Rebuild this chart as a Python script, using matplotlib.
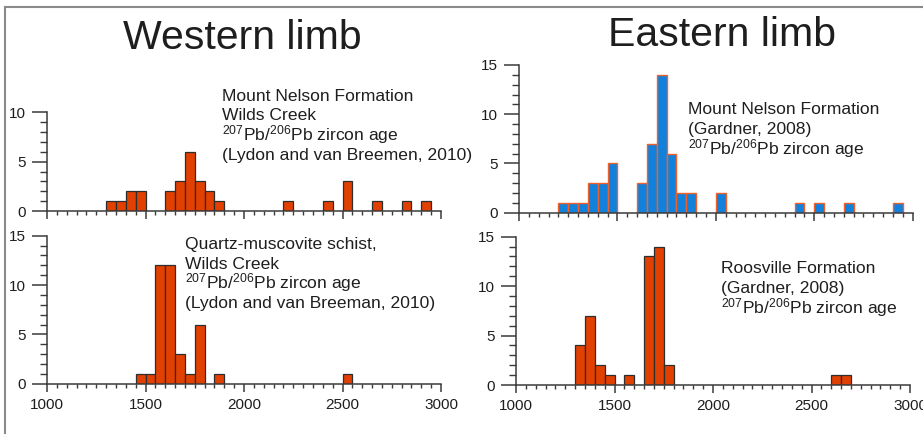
import matplotlib
matplotlib.use('Agg')
import matplotlib.pyplot as plt
from matplotlib.lines import Line2D
from matplotlib.ticker import MultipleLocator

# Detrital zircon age histograms (50 Ma bins, left edges in Ma)
west_top_bins   = [1300, 1350, 1400, 1450, 1600, 1650, 1700, 1750, 1800, 1850, 2200, 2400, 2500, 2650, 2800, 2900]
west_top_counts = [1, 1, 2, 2, 2, 3, 6, 3, 2, 1, 1, 1, 3, 1, 1, 1]

west_bot_bins   = [1450, 1500, 1550, 1600, 1650, 1700, 1750, 1850, 2500]
west_bot_counts = [1, 1, 12, 12, 3, 1, 6, 1, 1]

east_top_bins   = [1200, 1250, 1300, 1350, 1400, 1450, 1600, 1650, 1700, 1750, 1800, 1850, 2000, 2400, 2500, 2650, 2900]
east_top_counts = [1, 1, 1, 3, 3, 5, 3, 7, 14, 6, 2, 2, 2, 1, 1, 1, 1]

east_bot_bins   = [1300, 1350, 1400, 1450, 1550, 1650, 1700, 1750, 2600, 2650]
east_bot_counts = [4, 7, 2, 1, 1, 13, 14, 2, 1, 1]

titles = ['Western limb', 'Eastern limb']
pb_label = r'$^{207}$Pb/$^{206}$Pb zircon age'
west_top_text = ['Mount Nelson Formation', 'Wilds Creek', pb_label, '(Lydon and van Breemen, 2010)']
west_bot_text = ['Quartz-muscovite schist,', 'Wilds Creek', pb_label, '(Lydon and van Breeman, 2010)']
east_top_text = ['Mount Nelson Formation', '(Gardner, 2008)', pb_label]
east_bot_text = ['Roosville Formation', '(Gardner, 2008)', pb_label]

plt.rcParams['font.family'] = ['Liberation Sans', 'DejaVu Sans']
plt.rcParams['mathtext.fontset'] = 'custom'
plt.rcParams['mathtext.rm'] = 'Liberation Sans'
plt.rcParams['mathtext.it'] = 'Liberation Sans:italic'
plt.rcParams['mathtext.default'] = 'regular'

W, H = 923, 436
fig = plt.figure(figsize=(W / 100, H / 100), dpi=100)

ORANGE = '#e24000'
BLUE = '#1281dc'
AXCOL = '#3a3a3a'
TXT = '#1e1e1e'


def px_axes(left, right, top, bottom):
    """ axes from pixel box """
    return fig.add_axes([left / W, 1 - bottom / H, (right - left) / W, (bottom - top) / H])


def style(ax, ymax, labels):
    ax.set_xlim(1000, 3000)
    ax.set_ylim(0, ymax)
    for s in ['top', 'right']:
        ax.spines[s].set_visible(False)
    for s in ['left', 'bottom']:
        ax.spines[s].set_color(AXCOL)
        ax.spines[s].set_linewidth(1.1)
    ax.xaxis.set_major_locator(MultipleLocator(500))
    ax.xaxis.set_minor_locator(MultipleLocator(50))
    ax.yaxis.set_major_locator(MultipleLocator(5))
    ax.yaxis.set_minor_locator(MultipleLocator(1))
    ax.tick_params(axis='y', which='major', length=11, width=1.1, color=AXCOL, labelsize=11,
                   labelcolor=TXT, pad=4)
    ax.tick_params(axis='y', which='minor', length=5, width=1.0, color=AXCOL)
    ax.tick_params(axis='x', which='major', length=6, width=1.1, color=AXCOL, labelsize=11,
                   labelcolor=TXT, pad=4, labelbottom=labels)
    ax.tick_params(axis='x', which='minor', length=3, width=1.0, color=AXCOL)
    ax.patch.set_alpha(0)


def lines_text(x, y0, lines, step=19.5):
    for i, t in enumerate(lines):
        fig.text(x / W, 1 - (y0 + i * step) / H, t, fontsize=12.6, color=TXT, va='baseline', ha='left')


ax1 = px_axes(47, 441, 112.3, 211)
ax1.bar(west_top_bins, west_top_counts, width=50, align='edge', color=ORANGE, edgecolor='#2e2e2e', linewidth=0.9)
style(ax1, 10, False)

ax2 = px_axes(47, 441, 235.7, 383.7)
ax2.bar(west_bot_bins, west_bot_counts, width=50, align='edge', color=ORANGE, edgecolor='#2e2e2e', linewidth=0.9)
style(ax2, 15, True)

ax3 = px_axes(519, 912.7, 65, 212.7)
ax3.bar(east_top_bins, east_top_counts, width=50, align='edge', color=BLUE, edgecolor='#f0602a', linewidth=1.0)
style(ax3, 15, False)

ax4 = px_axes(516, 910, 236.7, 385)
ax4.bar(east_bot_bins, east_bot_counts, width=50, align='edge', color=ORANGE, edgecolor='#2e2e2e', linewidth=0.9)
style(ax4, 15, True)

# titles
fig.text(242 / W, 1 - 49 / H, titles[0], fontsize=29.5, color=TXT, ha='center', va='baseline')
fig.text(722 / W, 1 - 46 / H, titles[1], fontsize=29.5, color=TXT, ha='center', va='baseline')

lines_text(222, 101, west_top_text)
lines_text(185, 249, west_bot_text)
lines_text(688, 114, east_top_text, 20)
lines_text(721, 273, east_bot_text, 20)

# frame lines (left and top only)
fig.add_artist(Line2D([5 / W, 5 / W], [1 - 7 / H, 1 - 433 / H], color='#8a8a8a', lw=1.5))
fig.add_artist(Line2D([5 / W, 1], [1 - 7 / H, 1 - 7 / H], color='#8a8a8a', lw=1.5))

fig.savefig('out.png', dpi=100)
